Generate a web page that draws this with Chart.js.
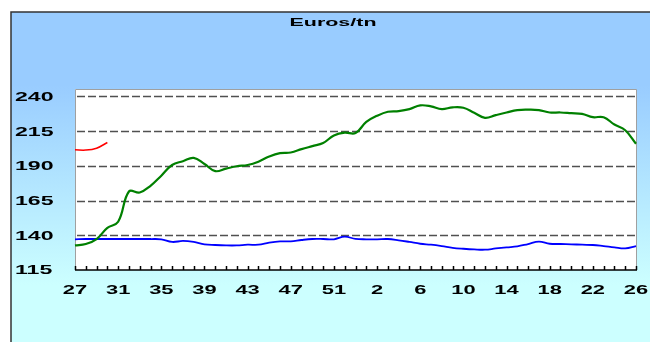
<!DOCTYPE html>
<html>
<head>
<meta charset="utf-8">
<script src="https://cdn.jsdelivr.net/npm/chart.js@4.4.0/dist/chart.umd.min.js"></script>
<style>
  html, body { margin: 0; padding: 0; background: #fff; }
  canvas { display: block; }
</style>
</head>
<body>
<canvas id="chart" width="650" height="342"></canvas>
<script>
// week numbers along the x axis (27..53, then 1..26)
const weeks = ['27','28','29','30','31','32','33','34','35','36','37','38','39','40',
  '41','42','43','44','45','46','47','48','49','50','51','52','53',
  '1','2','3','4','5','6','7','8','9','10','11','12','13','14','15','16','17','18',
  '19','20','21','22','23','24','25','26'];

const yTicks = [115, 140, 165, 190, 215, 240];

const greenSeries = [132.7, 133.7, 137.3, 145.3, 149.7, 171.5, 170.8, 175.6, 182.9, 190.6,
  193.3, 195.7, 191.3, 186.2, 188.0, 189.7, 190.6, 193.0, 196.7, 199.1,
  199.6, 202.0, 204.2, 206.4, 211.9, 213.9, 213.6, 221.6, 226.0, 228.9,
  229.4, 230.8, 233.5, 232.8, 230.8, 232.1, 231.8, 228.2, 224.5, 226.5,
  228.4, 230.1, 230.4, 230.1, 228.4, 228.4, 227.9, 227.4, 225.0, 225.0,
  219.7, 215.6, 205.9];

const blueSeries = [137.1, 137.3, 137.3, 137.3, 137.3, 137.3, 137.3, 137.3, 137.1, 135.2,
  135.9, 135.2, 133.5, 133.0, 132.7, 132.7, 133.2, 133.2, 134.7, 135.6,
  135.6, 136.6, 137.3, 137.3, 137.1, 139.0, 137.4, 137.1, 137.1, 137.3,
  136.4, 135.2, 133.9, 133.2, 132.2, 131.0, 130.3, 129.8, 129.6, 130.5,
  131.3, 132.0, 133.7, 135.4, 133.9, 133.7, 133.5, 133.2, 133.0, 132.2,
  131.3, 130.6, 132.2];

const redSeries = [201.5, 201.3, 202.7, 206.8];

const TITLE = 'Euros/tn';
const FONT = '"Liberation Sans", Arial, sans-serif';

// draws text squeezed wide, like the original picture
function wideText(ctx, txt, x, y, sx, align) {
  ctx.save();
  ctx.translate(x, y);
  ctx.scale(sx, 1);
  ctx.textAlign = align;
  ctx.textBaseline = 'middle';
  ctx.fillText(txt, 0, 0);
  ctx.restore();
}

const framePlugin = {
  id: 'frame',
  beforeDraw(chart) {
    const ctx = chart.ctx;
    const a = chart.chartArea;
    ctx.save();
    ctx.fillStyle = '#fff';
    ctx.fillRect(0, 0, chart.width, chart.height);

    const g = ctx.createLinearGradient(0, 85, 0, 285);
    g.addColorStop(0, '#99ccff');
    g.addColorStop(1, '#ccffff');
    ctx.fillStyle = g;
    ctx.fillRect(11, 12, chart.width, chart.height);

    ctx.strokeStyle = '#333';
    ctx.lineWidth = 1.5;
    ctx.beginPath();
    ctx.moveTo(11, chart.height);
    ctx.lineTo(11, 12);
    ctx.lineTo(chart.width, 12);
    ctx.stroke();

    ctx.fillStyle = '#fff';
    ctx.fillRect(a.left, a.top, a.right - a.left, a.bottom - a.top);
    ctx.restore();
  },
  beforeDatasetsDraw(chart) {
    const ctx = chart.ctx;
    const a = chart.chartArea;
    const x = chart.scales.x, y = chart.scales.y;
    ctx.save();

    // plot border
    ctx.strokeStyle = '#a0a0a0';
    ctx.lineWidth = 1;
    ctx.beginPath();
    ctx.moveTo(a.left + 0.5, a.bottom);
    ctx.lineTo(a.left + 0.5, a.top + 0.5);
    ctx.lineTo(a.right + 0.5, a.top + 0.5);
    ctx.lineTo(a.right + 0.5, a.bottom);
    ctx.stroke();

    // dashed gridlines
    ctx.strokeStyle = '#505050';
    ctx.lineWidth = 1.5;
    ctx.setLineDash([8, 3]);
    yTicks.slice(1).forEach(v => {
      const py = Math.round(y.getPixelForValue(v)) + 0.5;
      ctx.beginPath();
      ctx.moveTo(a.left + 2, py);
      ctx.lineTo(a.right, py);
      ctx.stroke();
    });
    ctx.setLineDash([]);

    // x axis with week ticks
    ctx.strokeStyle = '#000';
    ctx.lineWidth = 1.5;
    ctx.beginPath();
    ctx.moveTo(a.left, a.bottom);
    ctx.lineTo(a.right + 1, a.bottom);
    weeks.forEach((w, i) => {
      const px = Math.round(x.getPixelForValue(i)) + 0.5;
      ctx.moveTo(px, a.bottom);
      ctx.lineTo(px, a.bottom - 4);
    });
    ctx.stroke();
    ctx.restore();
  },
  afterDraw(chart) {
    const ctx = chart.ctx;
    const a = chart.chartArea;
    const x = chart.scales.x, y = chart.scales.y;
    ctx.save();
    ctx.fillStyle = '#000';

    ctx.font = 'bold 11px ' + FONT;
    wideText(ctx, TITLE, 333, 23, 1.95, 'center');

    ctx.font = 'bold 12.5px ' + FONT;
    yTicks.forEach(v => {
      wideText(ctx, String(v), 15, y.getPixelForValue(v) + 1, 1.85, 'left');
    });
    weeks.forEach((w, i) => {
      if (i % 4 !== 0) return;
      wideText(ctx, w, x.getPixelForValue(i), a.bottom + 21, 1.75, 'center');
    });
    ctx.restore();
  }
};

new Chart(document.getElementById('chart'), {
  type: 'line',
  data: {
    labels: weeks,
    datasets: [
      { data: greenSeries, borderColor: '#008000', borderWidth: 2.2 },
      { data: blueSeries, borderColor: '#0000ff', borderWidth: 1.8 },
      { data: redSeries, borderColor: '#ff0000', borderWidth: 1.5 }
    ]
  },
  options: {
    responsive: false,
    animation: false,
    devicePixelRatio: 1,
    layout: { padding: { left: 75, right: 14, top: 89, bottom: 72 } },
    elements: {
      point: { radius: 0 },
      line: { tension: 0.4, fill: false }
    },
    plugins: { legend: { display: false }, tooltip: { enabled: false } },
    scales: {
      x: { type: 'category', display: false, offset: false },
      y: { display: false, min: 115, max: 245.3 }
    }
  },
  plugins: [framePlugin]
});
</script>
</body>
</html>
